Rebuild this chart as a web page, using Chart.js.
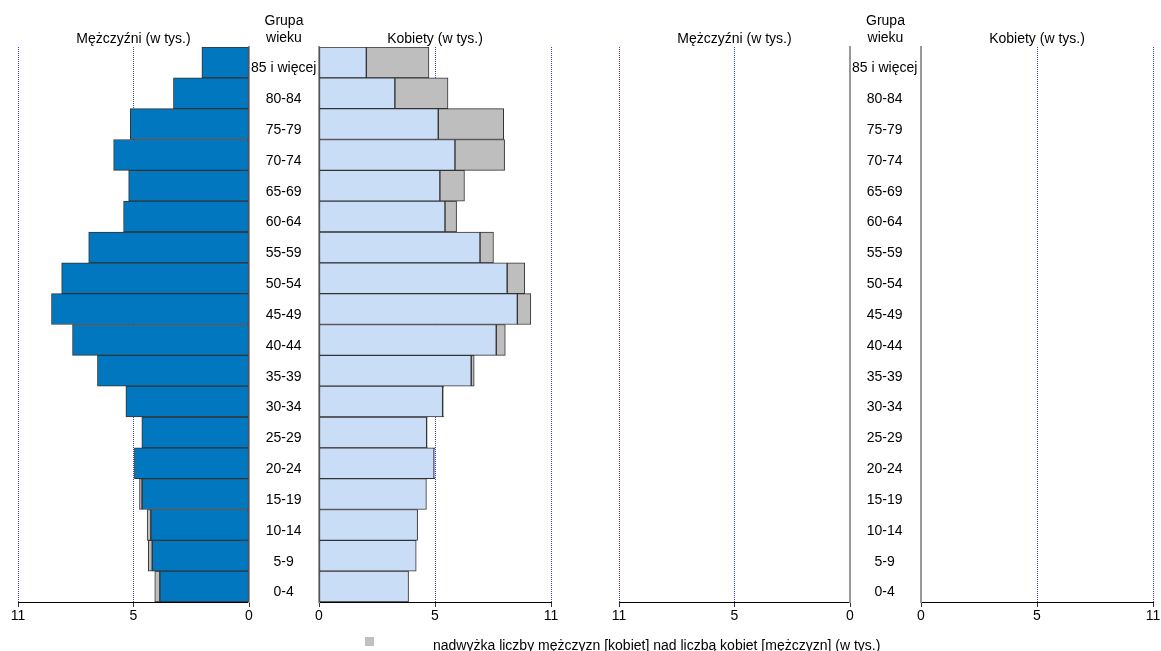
<!DOCTYPE html>
<html lang="pl">
<head>
<meta charset="utf-8">
<title>Piramida wieku</title>
<script src="https://cdn.jsdelivr.net/npm/chart.js@4.4.1/dist/chart.umd.min.js"></script>
<style>
  html, body { margin: 0; padding: 0; background: #fff; }
  body { width: 1161px; height: 651px; position: relative; overflow: hidden;
         font-family: 'Liberation Sans', Arial, sans-serif; color: #000; }
  canvas { position: absolute; top: 0; }
  .ttl { position: absolute; font-size: 14px; text-align: center; white-space: nowrap; line-height: 17px; }
  .leg-box { position: absolute; left: 365px; top: 637px; width: 9px; height: 9px; background: #c0c0c0; }
  .leg-txt { position: absolute; left: 433px; top: 637px; font-size: 14px; white-space: nowrap; }
</style>
</head>
<body>
<canvas id="menL" width="320" height="651" style="left:0px"></canvas>
<canvas id="womenL" width="270" height="651" style="left:300px"></canvas>
<canvas id="menR" width="320" height="651" style="left:601px"></canvas>
<canvas id="womenR" width="270" height="651" style="left:902px"></canvas>

<div class="ttl" style="left:18px; width:231px; top:30px;">Mężczyźni (w tys.)</div>
<div class="ttl" style="left:249px; width:70px; top:12px;">Grupa<br>wieku</div>
<div class="ttl" style="left:319px; width:232px; top:30px;">Kobiety (w tys.)</div>
<div class="ttl" style="left:619px; width:231px; top:30px;">Mężczyźni (w tys.)</div>
<div class="ttl" style="left:850px; width:71px; top:12px;">Grupa<br>wieku</div>
<div class="ttl" style="left:921px; width:232px; top:30px;">Kobiety (w tys.)</div>

<div class="leg-box"></div>
<div class="leg-txt">nadwyżka liczby mężczyzn [kobiet] nad liczbą kobiet [mężczyzn] (w tys.)</div>

<script>
// age groups, top to bottom
const ageGroups = ['85 i więcej', '80-84', '75-79', '70-74', '65-69', '60-64', '55-59', '50-54',
  '45-49', '40-44', '35-39', '30-34', '25-29', '20-24', '15-19', '10-14', '5-9', '0-4'];

// thousands of people
const men = [2.04, 3.27, 5.14, 5.86, 5.21, 5.43, 6.94, 8.11, 8.55, 7.64, 6.56, 5.33,
  4.64, 4.96, 4.74, 4.41, 4.36, 4.08];
const women = [4.74, 5.56, 7.96, 8.00, 6.27, 5.93, 7.52, 8.87, 9.13, 8.03, 6.69, 5.37,
  4.67, 4.99, 4.63, 4.25, 4.19, 3.86];

// axis ticks (the last one is printed as "11" in the original)
const axisTicks = [0, 5, 10];
const axisTickLabels = ['0', '5', '11'];

const FONT = "'Liberation Sans', Arial, sans-serif";
const MEN_COLOR = '#0077bf';
const WOMEN_COLOR = '#c9ddf7';
const EXCESS_COLOR = '#bebebe';
// no grid line at 0, dotted blue at 5 and at the end
const gridColors = ['rgba(0,0,0,0)', '#3c3cff', '#3c3cff'];

const common = men.map((m, i) => Math.min(m, women[i]));
const menExcess = men.map((m, i) => Math.max(m - women[i], 0));
const womenExcess = women.map((w, i) => Math.max(w - men[i], 0));

function barSet(data, color) {
  return {
    data: data,
    backgroundColor: color,
    borderColor: '#333',
    borderWidth: 1,
    borderSkipped: false,
    barPercentage: 1,
    categoryPercentage: 1
  };
}

function makeChart(id, isMen, datasets) {
  const yAxis = isMen ? {
    type: 'category',
    position: 'right',
    stacked: true,
    grid: { display: false, drawTicks: false },
    border: { color: '#999', width: 2 },
    ticks: { color: '#000', font: { family: FONT, size: 14 }, crossAlign: 'center', padding: 2,
      labelOffset: 6, autoSkip: false },
    afterFit: s => { s.width = 70; }
  } : {
    type: 'category',
    position: 'left',
    stacked: true,
    grid: { display: false, drawTicks: false },
    border: { color: '#999', width: 2 },
    ticks: { display: false },
    afterFit: s => { s.width = 0; }
  };

  return new Chart(document.getElementById(id), {
    type: 'bar',
    data: { labels: ageGroups, datasets: datasets },
    options: {
      indexAxis: 'y',
      responsive: false,
      animation: false,
      layout: { padding: isMen ? { top: 47, bottom: 19, left: 18, right: 1 } : { top: 47, bottom: 19, left: 19, right: 19 } },
      plugins: { legend: { display: false }, tooltip: { enabled: false }, title: { display: false } },
      scales: {
        x: {
          type: 'linear',
          min: 0,
          max: 10,
          reverse: isMen,
          stacked: true,
          afterBuildTicks: s => { s.ticks = axisTicks.map(v => ({ value: v })); },
          grid: {
            color: gridColors,
            lineWidth: 1,
            tickColor: '#333',
            tickLength: 5,
            tickWidth: 1
          },
          border: { color: '#000', width: 1, dash: [1, 1] },
          ticks: {
            color: '#000',
            font: { family: FONT, size: 14 },
            padding: 1,
            maxRotation: 0,
            autoSkip: false,
            callback: v => axisTickLabels[axisTicks.indexOf(v)]
          },
          afterFit: s => { s.height = 30; }
        },
        y: yAxis
      }
    }
  });
}

makeChart('menL', true, [barSet(common, MEN_COLOR), barSet(menExcess, EXCESS_COLOR)]);
makeChart('womenL', false, [barSet(common, WOMEN_COLOR), barSet(womenExcess, EXCESS_COLOR)]);
makeChart('menR', true, []);
makeChart('womenR', false, []);
</script>
</body>
</html>
